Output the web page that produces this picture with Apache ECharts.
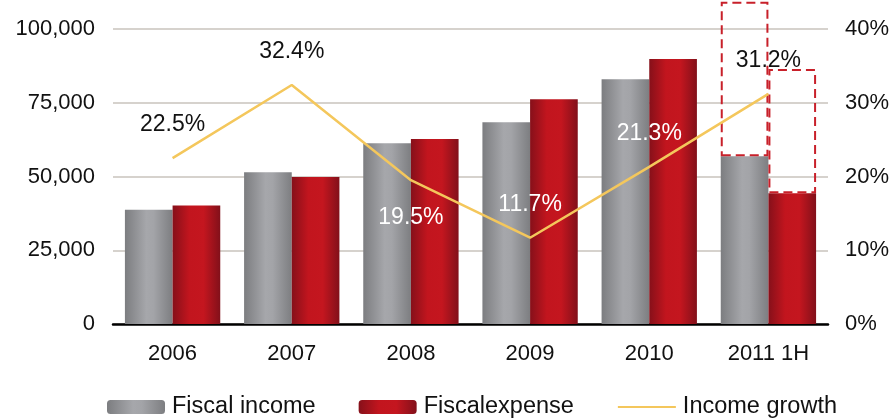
<!DOCTYPE html>
<html>
<head>
<meta charset="utf-8">
<script src="https://cdn.jsdelivr.net/npm/echarts@6/dist/echarts.min.js"></script>
<style>html,body{margin:0;padding:0;background:#fff;}#c{width:895px;height:419px;}</style>
</head>
<body>
<div id="c"></div>
<script>
const categories = ['2006', '2007', '2008', '2009', '2010', '2011 1H'];
const fiscalIncome = [38700, 51400, 61300, 68400, 83000, 56900];
const fiscalExpense = [40200, 49800, 62700, 76200, 89800, 44300];
// projected full-year remainder (dashed outline) stacked on top of 2011 1H
const incomeProjectedExtra = [null, null, null, null, null, 52300];
const expenseProjectedExtra = [null, null, null, null, null, 42100];
const incomeGrowth = [22.5, 32.4, 19.5, 11.7, 21.3, 31.2];
const leftTicks = [0, 25000, 50000, 75000, 100000];
const rightTicks = [0, 10, 20, 30, 40];

const grayGrad = new echarts.graphic.LinearGradient(0, 0, 1, 0, [
  {offset: 0, color: '#7c7d80'}, {offset: 0.45, color: '#a6a7ab'}, {offset: 0.6, color: '#a3a4a8'}, {offset: 1, color: '#7d7e81'}
]);
const redGrad = new echarts.graphic.LinearGradient(0, 0, 1, 0, [
  {offset: 0, color: '#86101a'}, {offset: 0.35, color: '#c2151e'}, {offset: 0.65, color: '#c4161f'}, {offset: 1, color: '#82101a'}
]);

const labelCfg = incomeGrowth.map((v, i) => {
  const white = i >= 2 && i <= 4;
  return {
    value: v,
    label: {
      position: i === 2 ? 'bottom' : 'top',
      distance: i === 2 ? 25 : 21,
      color: white ? '#ffffff' : '#111111'
    }
  };
});

const chart = echarts.init(document.getElementById('c'), null, {renderer: 'canvas'});
chart.setOption({
  animation: false,
  textStyle: {fontFamily: 'Liberation Sans, Arial, sans-serif'},
  grid: {left: 113, right: 67, top: 29, bottom: 95},
  legend: {
    left: 107, top: 395, padding: 0,
    itemWidth: 58, itemHeight: 14, itemGap: 43,
    data: ['Fiscal income', 'Fiscalexpense', {name: 'Income growth', itemStyle: {opacity: 0}}],
    textStyle: {fontFamily: 'Liberation Sans, Arial, sans-serif', fontSize: 23.5, color: '#111', padding: [0, 0, 0, 2]}
  },
  xAxis: {
    type: 'category', data: categories,
    axisLine: {lineStyle: {color: '#000', width: 2.5}},
    axisTick: {show: false},
    axisLabel: {fontSize: 22, color: '#111', margin: 19}
  },
  yAxis: [{
    type: 'value', min: leftTicks[0], max: leftTicks[leftTicks.length - 1], interval: 25000,
    axisLine: {show: false}, axisTick: {show: false},
    axisLabel: {fontSize: 22, color: '#111', margin: 18,
      formatter: v => v.toLocaleString('en-US')},
    splitLine: {lineStyle: {color: '#d6d2cd', width: 2}}
  }, {
    type: 'value', min: rightTicks[0], max: rightTicks[rightTicks.length - 1], interval: 10,
    axisLine: {show: false}, axisTick: {show: false},
    axisLabel: {fontSize: 22, color: '#111', margin: 17, formatter: '{value}%'},
    splitLine: {show: false}
  }],
  series: [{
    name: 'Fiscal income', type: 'bar', stack: 'inc', data: fiscalIncome,
    barGap: '0%', barCategoryGap: '20%',
    itemStyle: {color: grayGrad}
  }, {
    name: 'incProj', type: 'bar', stack: 'inc', data: incomeProjectedExtra, clip: false,
    itemStyle: {color: 'rgba(0,0,0,0)', borderColor: '#c8202a', borderWidth: 2, borderType: [9, 5]},
    z: 3
  }, {
    name: 'Fiscalexpense', type: 'bar', stack: 'exp', data: fiscalExpense,
    itemStyle: {color: redGrad}
  }, {
    name: 'expProj', type: 'bar', stack: 'exp', data: expenseProjectedExtra, clip: false,
    itemStyle: {color: 'rgba(0,0,0,0)', borderColor: '#c8202a', borderWidth: 2, borderType: [9, 5]},
    z: 3
  }, {
    name: 'Income growth', type: 'line', yAxisIndex: 1, data: labelCfg,
    symbol: 'circle', symbolSize: 1, showSymbol: true, z: 4,
    lineStyle: {color: '#f4c75c', width: 2.5},
    itemStyle: {color: 'rgba(0,0,0,0)'},
    label: {show: true, fontSize: 23, formatter: p => p.value.toFixed(1) + '%'}
  }]
});
</script>
</body>
</html>
